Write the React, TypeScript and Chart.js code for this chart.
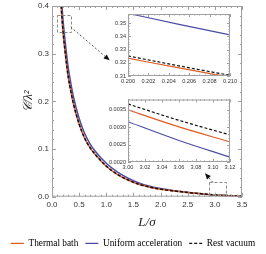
import React, { useEffect, useRef } from "react";
import { Chart, registerables } from "chart.js";
Chart.register(...registerables);

// ---------- data ----------
const mainL = [0.15, 0.2, 0.25, 0.3, 0.35, 0.4, 0.5, 0.6, 0.7, 0.8, 1.0, 1.2, 1.4, 1.6, 1.8, 2.0, 2.25, 2.5, 2.75, 3.0, 3.25, 3.5];
const thermalMain = [0.43, 0.35, 0.295, 0.25, 0.219, 0.192, 0.152, 0.123, 0.103, 0.088, 0.064, 0.047, 0.035, 0.026, 0.02, 0.0155, 0.0118, 0.0088, 0.006, 0.0035, 0.0022, 0.0014];
const uniformMain = [0.46, 0.375, 0.318, 0.27, 0.236, 0.207, 0.164, 0.133, 0.111, 0.095, 0.07, 0.052, 0.039, 0.029, 0.022, 0.017, 0.0125, 0.0092, 0.006, 0.0032, 0.002, 0.0012];
const restMain = [0.432, 0.351, 0.296, 0.251, 0.2195, 0.1925, 0.1525, 0.1233, 0.1032, 0.0882, 0.0642, 0.0472, 0.0352, 0.0262, 0.0202, 0.0157, 0.012, 0.009, 0.0062, 0.0037, 0.0024, 0.0016];

const inset1L = [0.2, 0.205, 0.21];
const inset1Thermal = [0.3235, 0.3161, 0.3092];
const inset1Uniform = [0.3575, 0.3492, 0.3412];
const inset1Rest = [0.3252, 0.3177, 0.3105];

const inset2L = [3.0, 3.06, 3.12];
const inset2Thermal = [0.0035, 0.00301, 0.00258];
const inset2Uniform = [0.00316, 0.00262, 0.00214];
const inset2Rest = [0.00367, 0.0032, 0.00278];

const seriesNames = ["Thermal bath", "Uniform acceleration", "Rest vacuum"];
const seriesColors = ["#DE5B24", "#4B4BA6", "#111111"];
const seriesDash = [[], [], [3, 2]];

// zoom indicator boxes [xMin, xMax, yMin, yMax] and arrows [x0, y0, x1, y1] in data units
const zoomBoxes = [
  [0.092, 0.35, 0.345, 0.381],
  [2.89, 3.2, 0.005, 0.03],
];
const zoomArrows = [
  [0.344, 0.356, 1.063, 0.286],
  [2.965, 0.03, 2.818, 0.049],
];

// ---------- plugins ----------
const framePlugin = {
  id: "frame",
  beforeDatasetsDraw(chart: any, _a: any, opts: any) {
    if (!opts.fill) return;
    const { ctx, chartArea: a } = chart;
    ctx.save();
    ctx.fillStyle = opts.fill;
    ctx.fillRect(a.left, a.top, a.right - a.left, a.bottom - a.top);
    ctx.restore();
  },
  afterDatasetsDraw(chart: any, _a: any, opts: any) {
    const { ctx, chartArea: a, scales } = chart;
    const xs = scales.x, ys = scales.y;
    ctx.save();
    ctx.strokeStyle = opts.color || "#999";
    ctx.lineWidth = 1;
    ctx.strokeRect(a.left + 0.5, a.top + 0.5, a.right - a.left - 1, a.bottom - a.top - 1);
    const drawTicks = (scale: any, major: number, minor: number, horiz: boolean) => {
      const n = Math.round((scale.max - scale.min) / minor);
      for (let i = 0; i <= n; i++) {
        const v = scale.min + i * minor;
        const r = v / major;
        const isMajor = Math.abs(r - Math.round(r)) < 1e-6;
        const len = isMajor ? opts.majorLen : opts.minorLen;
        const p = Math.round(scale.getPixelForValue(v)) + 0.5;
        ctx.beginPath();
        if (horiz) {
          ctx.moveTo(p, a.bottom);
          ctx.lineTo(p, a.bottom - len);
          ctx.moveTo(p, a.top);
          ctx.lineTo(p, a.top + len);
        } else {
          ctx.moveTo(a.left, p);
          ctx.lineTo(a.left + len, p);
          ctx.moveTo(a.right, p);
          ctx.lineTo(a.right - len, p);
        }
        ctx.stroke();
      }
    };
    drawTicks(xs, opts.majorX, opts.minorX, true);
    drawTicks(ys, opts.majorY, opts.minorY, false);
    ctx.restore();
  },
};

const zoomPlugin = {
  id: "zoomMarks",
  afterDatasetsDraw(chart: any, _a: any, opts: any) {
    if (!opts.boxes) return;
    const { ctx, scales } = chart;
    const xs = scales.x, ys = scales.y;
    ctx.save();
    ctx.strokeStyle = "#8a8a8a";
    ctx.lineWidth = 1;
    ctx.setLineDash([3, 2]);
    for (const b of opts.boxes) {
      const x0 = xs.getPixelForValue(b[0]), x1 = xs.getPixelForValue(b[1]);
      const y0 = ys.getPixelForValue(b[3]), y1 = ys.getPixelForValue(b[2]);
      ctx.strokeRect(Math.round(x0) + 0.5, Math.round(y0) + 0.5, Math.round(x1 - x0), Math.round(y1 - y0));
    }
    ctx.strokeStyle = "#555";
    ctx.setLineDash([2, 2]);
    for (const ar of opts.arrows) {
      const x0 = xs.getPixelForValue(ar[0]), y0 = ys.getPixelForValue(ar[1]);
      const x1 = xs.getPixelForValue(ar[2]), y1 = ys.getPixelForValue(ar[3]);
      const ang = Math.atan2(y1 - y0, x1 - x0);
      const hl = 6, hw = 2.6;
      ctx.beginPath();
      ctx.moveTo(x0, y0);
      ctx.lineTo(x1 - hl * Math.cos(ang), y1 - hl * Math.sin(ang));
      ctx.stroke();
      ctx.setLineDash([]);
      ctx.fillStyle = "#111";
      ctx.beginPath();
      ctx.moveTo(x1, y1);
      ctx.lineTo(x1 - hl * Math.cos(ang) + hw * Math.sin(ang), y1 - hl * Math.sin(ang) - hw * Math.cos(ang));
      ctx.lineTo(x1 - hl * Math.cos(ang) - hw * Math.sin(ang), y1 - hl * Math.sin(ang) + hw * Math.cos(ang));
      ctx.closePath();
      ctx.fill();
      ctx.setLineDash([2, 2]);
    }
    ctx.restore();
  },
};

const mkDatasets = (xsArr: number[], series: number[][], width: number) =>
  series.map((vals, i) => ({
    label: seriesNames[i],
    data: xsArr.map((x, j) => ({ x, y: vals[j] })),
    borderColor: seriesColors[i],
    backgroundColor: seriesColors[i],
    borderWidth: width,
    borderDash: seriesDash[i],
    pointRadius: 0,
    cubicInterpolationMode: "monotone" as const,
    order: i === 2 ? 0 : i === 0 ? 1 : 2,
  }));

function MainChart() {
  const ref = useRef<HTMLCanvasElement>(null);
  useEffect(() => {
    const chart = new Chart(ref.current!, {
      type: "line",
      data: { datasets: mkDatasets(mainL, [thermalMain, uniformMain, restMain], 1.5) as any },
      plugins: [framePlugin, zoomPlugin],
      options: {
        animation: false,
        responsive: false,
        maintainAspectRatio: false,
        layout: { padding: { left: 0, right: 0, top: 6, bottom: -4 } },
        plugins: {
          tooltip: { enabled: false },
          legend: {
            position: "bottom",
            align: "center",
            labels: {
              usePointStyle: true,
              pointStyle: "line",
              pointStyleWidth: 13,
              boxWidth: 13,
              padding: 7,
              color: "#222",
              font: { family: "Liberation Serif", size: 9.3 },
              generateLabels: () =>
                seriesNames.map((t, i) => ({
                  text: t,
                  strokeStyle: seriesColors[i],
                  fillStyle: seriesColors[i],
                  lineWidth: 1.3,
                  lineDash: seriesDash[i],
                  pointStyle: "line",
                  hidden: false,
                  datasetIndex: i,
                })) as any,
            },
          },
          frame: { color: "#a0a0a0", majorLen: 4, minorLen: 2, majorX: 0.5, minorX: 0.1, majorY: 0.1, minorY: 0.02 },
          zoomMarks: { boxes: zoomBoxes, arrows: zoomArrows },
        } as any,
        scales: {
          x: {
            type: "linear",
            min: 0,
            max: 3.5,
            ticks: {
              stepSize: 0.5,
              callback: (v: any) => Number(v).toFixed(1),
              color: "#333",
              font: { family: "Liberation Sans", size: 8 },
              padding: 3,
              maxRotation: 0,
              minRotation: 0,
              autoSkip: false,
            },
            grid: { display: false, drawTicks: false },
            border: { display: false },
            title: {
              display: true,
              text: "L/σ",
              color: "#222",
              font: { family: "Liberation Serif", style: "italic", size: 13 },
              padding: { top: 2, bottom: 1 },
            },
            afterFit: (s: any) => {
              s.height = 35;
              s.paddingLeft = 0;
              s.paddingRight = 0;
            },
          },
          y: {
            type: "linear",
            min: 0,
            max: 0.4,
            ticks: {
              stepSize: 0.1,
              callback: (v: any) => Number(v).toFixed(1),
              color: "#333",
              font: { family: "Liberation Sans", size: 8 },
              padding: 3,
            },
            grid: { display: false, drawTicks: false },
            border: { display: false },
            title: {
              display: true,
              text: "𝒞/λ²",
              color: "#222",
              font: { family: "Liberation Serif", style: "italic", size: 13 },
              padding: { top: 21, bottom: 0 },
            },
            afterFit: (s: any) => {
              s.width = 52;
              s.paddingTop = 0;
              s.paddingBottom = 0;
            },
          },
          yRight: {
            type: "linear",
            position: "right",
            display: true,
            ticks: { display: false },
            grid: { display: false, drawTicks: false },
            border: { display: false },
            afterFit: (s: any) => {
              s.width = 24;
              s.paddingTop = 0;
              s.paddingBottom = 0;
            },
          },
        },
      },
    });
    return () => chart.destroy();
  }, []);
  return <canvas ref={ref} width={266} height={254} style={{ position: "absolute", left: 0, top: 0, width: 266, height: 254 }} />;
}

function Inset(props: {
  left: number; top: number; w: number; h: number;
  xs: number[]; series: number[][];
  xMin: number; xMax: number; yMin: number; yMax: number;
  xStep: number; yStep: number; xDec: number; yDec: number;
  minorX: number; minorY: number; yWidth: number; xHeight: number;
  padTop: number; padRight: number;
}) {
  const ref = useRef<HTMLCanvasElement>(null);
  useEffect(() => {
    const p = props;
    const tickFont = { family: "Liberation Sans", size: 5.6 };
    const chart = new Chart(ref.current!, {
      type: "line",
      data: { datasets: mkDatasets(p.xs, p.series, 1.2) as any },
      plugins: [framePlugin],
      options: {
        animation: false,
        responsive: false,
        maintainAspectRatio: false,
        layout: { padding: { left: 0, right: p.padRight, top: p.padTop, bottom: 0 } },
        plugins: {
          tooltip: { enabled: false },
          legend: { display: false },
          frame: { fill: "#ffffff", color: "#a0a0a0", majorLen: 3, minorLen: 1.5, majorX: p.xStep, minorX: p.minorX, majorY: p.yStep, minorY: p.minorY },
        } as any,
        scales: {
          x: {
            type: "linear",
            min: p.xMin,
            max: p.xMax,
            ticks: {
              stepSize: p.xStep,
              callback: (v: any) => Number(v).toFixed(p.xDec),
              color: "#333",
              font: tickFont,
              padding: 2,
              maxRotation: 0,
              minRotation: 0,
              autoSkip: false,
            },
            grid: { display: false, drawTicks: false },
            border: { display: false },
            afterFit: (s: any) => {
              s.height = p.xHeight;
              s.paddingLeft = 0;
              s.paddingRight = 0;
            },
          },
          y: {
            type: "linear",
            min: p.yMin,
            max: p.yMax,
            afterBuildTicks: (s: any) => {
              s.ticks = s.ticks.filter((t: any) => {
                const r = (t.value - p.yMin) / p.yStep;
                return Math.abs(r - Math.round(r)) < 1e-6;
              });
            },
            ticks: {
              stepSize: p.yStep,
              callback: (v: any) => Number(v).toFixed(p.yDec),
              color: "#333",
              font: tickFont,
              padding: 2,
            },
            grid: { display: false, drawTicks: false },
            border: { display: false },
            afterFit: (s: any) => {
              s.width = p.yWidth;
              s.paddingTop = 0;
              s.paddingBottom = 0;
            },
          },
        },
      },
    });
    return () => chart.destroy();
  }, []);
  return (
    <canvas
      ref={ref}
      width={props.w}
      height={props.h}
      style={{ position: "absolute", left: props.left, top: props.top, width: props.w, height: props.h }}
    />
  );
}

export default function App() {
  return (
    <div style={{ position: "fixed", left: 0, top: 0, width: 266, height: 254, background: "#fff", overflow: "hidden" }}>
      <MainChart />
      <Inset
        left={98} top={8} w={140} h={84}
        xs={inset1L} series={[inset1Thermal, inset1Uniform, inset1Rest]}
        xMin={0.2} xMax={0.21} yMin={0.31} yMax={0.357}
        xStep={0.002} yStep={0.01} xDec={3} yDec={2}
        minorX={0.0005} minorY={0.002} yWidth={30} xHeight={16}
        padTop={6} padRight={8}
      />
      <Inset
        left={98} top={93} w={140} h={84}
        xs={inset2L} series={[inset2Thermal, inset2Uniform, inset2Rest]}
        xMin={3.0} xMax={3.12} yMin={0.002} yMax={0.0038}
        xStep={0.02} yStep={0.0005} xDec={2} yDec={4}
        minorX={0.005} minorY={0.0001} yWidth={30} xHeight={15}
        padTop={6.5} padRight={8}
      />
    </div>
  );
}
